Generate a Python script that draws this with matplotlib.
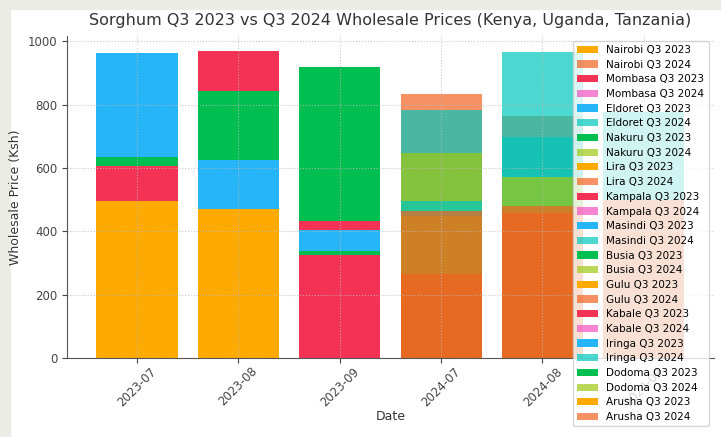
import numpy as np
import matplotlib
matplotlib.use("Agg")
import matplotlib.pyplot as plt
from matplotlib.patches import Rectangle

nan = np.nan

cities = ['Nairobi', 'Mombasa', 'Eldoret', 'Nakuru', 'Lira', 'Kampala', 'Masindi',
          'Busia', 'Gulu', 'Kabale', 'Iringa', 'Dodoma', 'Arusha']
dates_2023 = ['2023-07', '2023-08', '2023-09']
dates_2024 = ['2024-07', '2024-08', '2024-09']

# Q3 2023 prices (Ksh) per market: Jul, Aug, Sep
prices_2023 = [
    [910, 940, 880],   # Nairobi
    [880, 900, 850],   # Mombasa
    [850, 870, 790],   # Eldoret
    [720, 800, 920],   # Nakuru
    [600, 760, 380],   # Lira
    [640, 970, 432],   # Kampala
    [965, 700, 405],   # Masindi
    [635, 845, 338],   # Busia
    [560, 580, 300],   # Gulu
    [605, 540, 325],   # Kabale
    [450, 625, nan],   # Iringa
    [420, 410, nan],   # Dodoma
    [495, 472, nan],   # Arusha
]

# Q3 2024 prices (Ksh) per market: Jul, Aug, Sep
prices_2024 = [
    [835, 763, nan],   # Nairobi
    [nan, nan, nan],   # Mombasa
    [785, 966, 776],   # Eldoret
    [648, nan, nan],   # Nakuru
    [nan, nan, nan],   # Lira
    [nan, nan, nan],   # Kampala
    [495, 697, 776],   # Masindi
    [450, 571, nan],   # Busia
    [465, 480, 498],   # Gulu
    [nan, nan, nan],   # Kabale
    [nan, nan, nan],   # Iringa
    [nan, nan, nan],   # Dodoma
    [265, 458, 498],   # Arusha
]

colors_2023 = ['#FFAA00', '#F43256', '#26B5F8', '#00BF50']
colors_2024 = ['#F26220', '#F651C3', '#00C8BC', '#A0C814']

fig = plt.figure(figsize=(7.21, 4.37), dpi=100)
ax = fig.add_axes([0.093, 0.181, 0.897, 0.7375])

for i, city in enumerate(cities):
    ax.bar(dates_2023, prices_2023[i], color=colors_2023[i % 4], label=city + ' Q3 2023')
    ax.bar(dates_2024, prices_2024[i], color=colors_2024[i % 4], alpha=0.7,
           label=city + ' Q3 2024')

ax.set_title('Sorghum Q3 2023 vs Q3 2024 Wholesale Prices (Kenya, Uganda, Tanzania)',
             fontsize=11.5, color='#333333', pad=8)
ax.set_xlabel('Date', fontsize=9, color='#333333', labelpad=1)
ax.set_ylabel('Wholesale Price (Ksh)', fontsize=9, color='#333333')
ax.tick_params(axis='x', labelrotation=45, labelsize=8.5, colors='#444444', pad=1.5)
ax.tick_params(axis='y', labelsize=8.5, colors='#444444')
ax.grid(True, linestyle=':', color='#bbbbbb', alpha=0.8)
for s in ['top', 'right']:
    ax.spines[s].set_visible(False)
for s in ['left', 'bottom']:
    ax.spines[s].set_color('#555555')

ax.legend(loc='upper right', fontsize=7.5, labelspacing=0.45)

# grey page frame around the picture
fig.patches.append(Rectangle((0, 0), 10 / 721, 1, transform=fig.transFigure,
                             color='#ECECE7', zorder=-1))
fig.patches.append(Rectangle((0, 1 - 9 / 437), 1, 9 / 437, transform=fig.transFigure,
                             color='#ECECE7', zorder=-1))

fig.savefig('out.png', dpi=100)
